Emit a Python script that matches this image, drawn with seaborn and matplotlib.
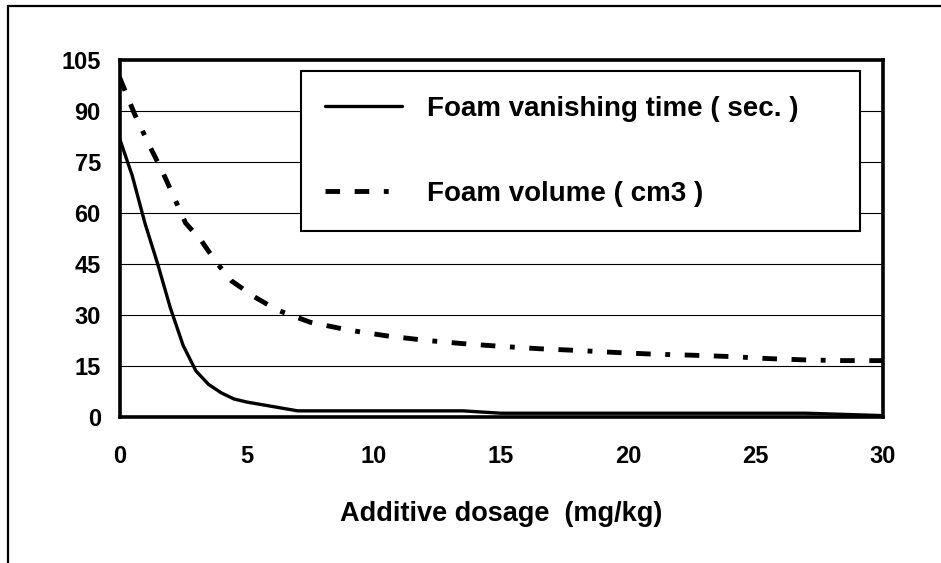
import pandas as pd
import seaborn as sns
import matplotlib.pyplot as plt
from matplotlib.patches import Rectangle

# values
dose_time = [0, 0.5, 1, 1.5, 2, 2.5, 3, 3.5, 4, 4.5, 5, 6, 7, 13.5, 15, 27, 30]
vanish_time = [82, 71, 57, 45, 32, 21, 13.5, 9.5, 7, 5.2, 4.3, 3, 1.7, 1.7, 1.0, 1.0, 0.3]

dose_vol = [0, 0.6, 1.2, 1.7, 2.6, 3.2, 3.8, 4.4, 5.3, 6.2, 7.5, 9, 10.5, 12, 13.5,
            15, 16.5, 18, 19.5, 21, 22.5, 24, 25.5, 27, 28.5, 30]
foam_vol = [100, 89, 79.5, 72, 57, 52, 45.5, 40, 35.3, 31.4, 27.8, 25.5, 23.8, 22.5, 21.5,
            20.7, 20, 19.5, 18.9, 18.4, 18.1, 17.7, 17.1, 16.7, 16.5, 16.5]

label_time = "Foam vanishing time ( sec. )"
label_vol = "Foam volume ( cm3 )"
xticks = [0, 5, 10, 15, 20, 25, 30]
yticks = [0, 15, 30, 45, 60, 75, 90, 105]

df_t = pd.DataFrame({"dose": dose_time, "val": vanish_time})
df_v = pd.DataFrame({"dose": dose_vol, "val": foam_vol})

sns.set_style("white")
plt.rcParams['font.family'] = ['Liberation Sans', 'DejaVu Sans']
plt.rcParams['font.weight'] = 'bold'
plt.rcParams['text.color'] = 'black'
plt.rcParams['axes.labelcolor'] = 'black'
plt.rcParams['xtick.labelcolor'] = 'black'
plt.rcParams['ytick.labelcolor'] = 'black'

fig = plt.figure(figsize=(9.41, 5.63), dpi=100)
ax = fig.add_axes([0.127, 0.260, 0.811, 0.633])

sns.lineplot(data=df_t, x="dose", y="val", ax=ax, color="black", lw=2.4, label=label_time)
sns.lineplot(data=df_v, x="dose", y="val", ax=ax, color="black", lw=3.5,
             linestyle=(0, (3, 3, 3, 3, 1, 3)), label=label_vol)

ax.set_xlim(0, 30)
ax.set_ylim(0, 105)
ax.set_xticks(xticks)
ax.set_yticks(yticks)
ax.yaxis.grid(True, color="black", lw=0.8)
ax.set_axisbelow(True)
for s in ax.spines.values():
    s.set_linewidth(2.6)
    s.set_color("black")
ax.tick_params(axis="both", direction="out", length=6.5, width=2.6, color="black",
               labelsize=17)
ax.tick_params(axis="x", pad=14)
ax.tick_params(axis="y", pad=7)
for t in ax.get_xticklabels() + ax.get_yticklabels():
    t.set_fontweight("bold")

ax.set_xlabel("Additive dosage  (mg/kg)", fontsize=19.5, fontweight="bold", labelpad=24)
ax.set_ylabel("")

leg = ax.legend(loc="upper left", bbox_to_anchor=(0.2377, 0.529, 0.733, 0.44), mode="expand",
                borderaxespad=0, fontsize=20, frameon=True, fancybox=False, handlelength=2.75,
                handletextpad=0.9, labelspacing=2.12, borderpad=0.88, framealpha=1)
leg.get_frame().set_edgecolor("black")
leg.get_frame().set_linewidth(1.5)
for t in leg.get_texts():
    t.set_fontweight("bold")

# outer chart frame
fig.add_artist(Rectangle((8 / 941, -0.5), 2, 1.5 - 6 / 563, transform=fig.transFigure,
                         fill=False, edgecolor="black", lw=1.6))

fig.savefig("out.png", dpi=100)
